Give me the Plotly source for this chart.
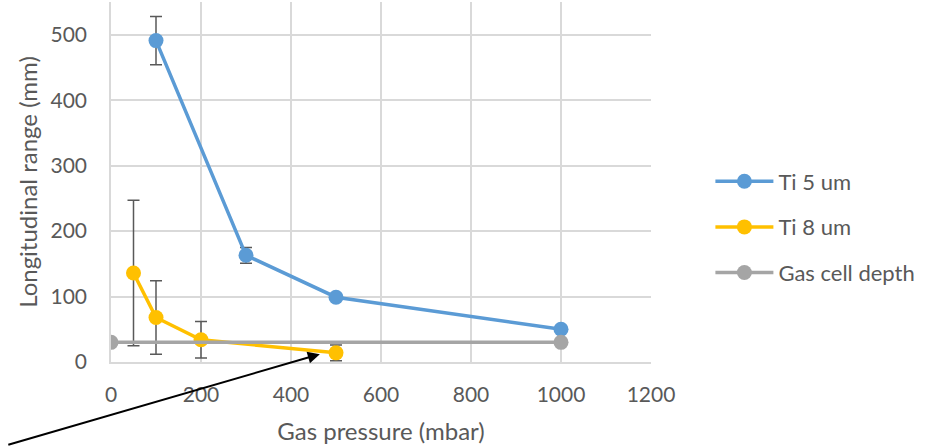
import plotly.graph_objects as go

# Data
ti5_x = [100, 300, 500, 1000]
ti5_y = [491, 163, 99, 50]
ti5_err = [37, 12, 0, 0]

ti8_x = [50, 100, 200, 500]
ti8_y = [136, 68, 34, 14]
ti8_err = [111, 56, 28, 12]

gas_x = [0, 1000]
gas_y = [30, 30]

x_ticks = [0, 200, 400, 600, 800, 1000, 1200]
y_ticks = [0, 100, 200, 300, 400, 500]

FONT = "Lato"
TXT = "#595959"
GRID = "#D9D9D9"

fig = go.Figure()
fig.add_trace(go.Scatter(
    x=ti5_x, y=ti5_y, mode="lines+markers", name="Ti 5 um", legendgroup="a",
    line=dict(color="#5B9BD5", width=3.5),
    marker=dict(color="#5B9BD5", size=15),
    error_y=dict(type="data", array=ti5_err, color="#595959", thickness=1.5, width=6),
))
fig.add_trace(go.Scatter(
    x=ti8_x, y=ti8_y, mode="lines+markers", name="Ti 8 um", legendgroup="b",
    line=dict(color="#FFC000", width=3.5),
    marker=dict(color="#FFC000", size=15),
    error_y=dict(type="data", array=ti8_err, color="#595959", thickness=1.5, width=6),
))
fig.add_trace(go.Scatter(
    x=gas_x, y=gas_y, mode="lines+markers", name="Gas cell depth", legendgroup="c",
    line=dict(color="#A5A5A5", width=3.5),
    marker=dict(color="#A5A5A5", size=15),
))

fig.add_annotation(
    x=464, y=12, xref="x", yref="y", text="", showarrow=True,
    ax=-313, ay=91, axref="pixel", ayref="pixel",
    arrowhead=2, arrowsize=1.2, arrowwidth=2, arrowcolor="black", standoff=0,
)

fig.update_layout(
    width=927, height=446,
    margin=dict(l=111, r=276, t=2, b=84),
    paper_bgcolor="white", plot_bgcolor="white",
    font=dict(family=FONT, size=21, color=TXT),
    showlegend=True,
    legend=dict(x=1.11, y=0.375, xanchor="left", yanchor="middle",
                font=dict(family=FONT, size=22, color=TXT),
                itemwidth=58, tracegroupgap=14, bgcolor="rgba(0,0,0,0)"),
    xaxis=dict(
        range=[0, 1200], tickvals=x_ticks, showgrid=True, gridcolor=GRID, gridwidth=1.5,
        showline=True, linecolor=GRID, linewidth=1.5, zeroline=False,
        ticks="", ticklabelstandoff=13, tickfont=dict(family=FONT, size=21, color=TXT),
        title=dict(text="Gas pressure (mbar)", font=dict(family=FONT, size=24, color=TXT), standoff=18),
    ),
    yaxis=dict(
        range=[0, 550], tickvals=y_ticks, showgrid=True, gridcolor=GRID, gridwidth=1.5,
        showline=True, linecolor=GRID, linewidth=1.5, zeroline=False,
        ticks="", ticklabelstandoff=18, tickfont=dict(family=FONT, size=21, color=TXT),
        title=dict(text="Longitudinal range (mm)", font=dict(family=FONT, size=24, color=TXT), standoff=6),
    ),
)

fig.write_html("out.html", config={"displayModeBar": False},
               post_script="document.body.style.margin='0px';")
